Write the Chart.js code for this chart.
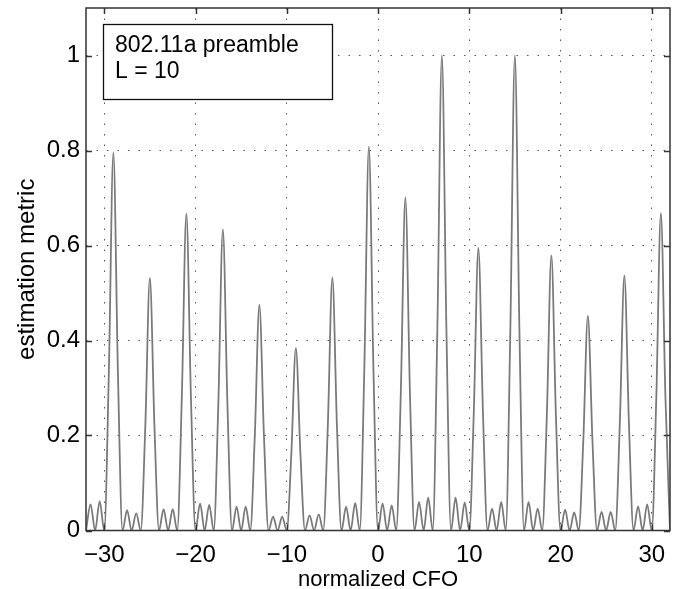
<!DOCTYPE html>
<html>
<head>
<meta charset="utf-8">
<script src="https://cdn.jsdelivr.net/npm/chart.js@4.4.1/dist/chart.umd.min.js"></script>
<style>
  html, body { margin: 0; padding: 0; background: #fff; }
</style>
</head>
<body>
<canvas id="chartCfo" width="677" height="589"></canvas>
<script>
// main lobes: position (normalized CFO) and height
const peakCfo    = [-29, -25, -21, -17, -13, -9, -5, -1, 3, 7, 11, 15, 19, 23, 27, 31];
const peakMetric = [0.796, 0.532, 0.667, 0.634, 0.475, 0.384, 0.533, 0.808,
                    0.701, 1.0, 0.595, 1.0, 0.579, 0.452, 0.537, 0.668];
// value half a bin either side of each peak (flank of the main lobe)
const shoulderMetric = [0.33, 0.22, 0.28, 0.265, 0.20, 0.16, 0.22, 0.34,
                        0.29, 0.42, 0.25, 0.42, 0.24, 0.19, 0.225, 0.28];

// small side lobes between the main lobes
const sideLobeCfo = [-31.5, -30.5, -27.5, -26.5, -23.5, -22.5, -19.5, -18.5,
                     -15.5, -14.5, -11.5, -10.5, -7.5, -6.5, -3.5, -2.5,
                     0.5, 1.5, 4.5, 5.5, 8.5, 9.5, 12.5, 13.5,
                     16.5, 17.5, 20.5, 21.5, 24.5, 25.5, 28.5, 29.5];
const sideLobeMetric = [0.055, 0.062, 0.043, 0.036, 0.045, 0.045, 0.057, 0.054,
                        0.050, 0.050, 0.029, 0.029, 0.032, 0.034, 0.050, 0.058,
                        0.057, 0.053, 0.060, 0.069, 0.069, 0.059, 0.046, 0.060,
                        0.060, 0.046, 0.044, 0.038, 0.039, 0.039, 0.051, 0.055];

// nulls of the metric
const nullCfo = [-32, -31, -30, -28, -27, -26, -24, -23, -22, -20, -19, -18,
                 -16, -15, -14, -12, -11, -10, -8, -7, -6, -4, -3, -2,
                 0, 1, 2, 4, 5, 6, 8, 9, 10, 12, 13, 14,
                 16, 17, 18, 20, 21, 22, 24, 25, 26, 28, 29, 30, 32];

const xTicks = [-30, -20, -10, 0, 10, 20, 30];
const yTicks = [0, 0.2, 0.4, 0.6, 0.8, 1];
const legendLines = ['802.11a preamble', 'L = 10'];

const FONT = 'Liberation Sans, Arial, Helvetica, sans-serif';

// collect every read point and put them in order of CFO
const points = [];
nullCfo.forEach(x => points.push({ x: x, y: 0 }));
peakCfo.forEach((x, i) => {
    points.push({ x: x, y: peakMetric[i] });
    points.push({ x: x - 0.5, y: shoulderMetric[i] });
    points.push({ x: x + 0.5, y: shoulderMetric[i] });
});
sideLobeCfo.forEach((x, i) => points.push({ x: x, y: sideLobeMetric[i] }));
points.sort((a, b) => a.x - b.x);

const minus = v => String(v).replace('-', '\u2212');

// box around the axes, inward tick marks, and the text box in the corner
const matlabFrame = {
    id: 'matlabFrame',
    afterDatasetsDraw(chart) {
        const { ctx, chartArea: a, scales } = chart;
        const len = 6;
        ctx.save();
        ctx.strokeStyle = '#333';
        ctx.lineWidth = 1.5;
        ctx.beginPath();
        xTicks.forEach(v => {
            const px = Math.round(scales.x.getPixelForValue(v)) + 0.5;
            ctx.moveTo(px, a.bottom); ctx.lineTo(px, a.bottom - len);
            ctx.moveTo(px, a.top);    ctx.lineTo(px, a.top + len);
        });
        yTicks.forEach(v => {
            const py = Math.round(scales.y.getPixelForValue(v)) + 0.5;
            ctx.moveTo(a.left, py);  ctx.lineTo(a.left + len, py);
            ctx.moveTo(a.right, py); ctx.lineTo(a.right - len, py);
        });
        ctx.stroke();
        ctx.strokeRect(a.left, a.top, a.right - a.left, a.bottom - a.top);

        // text box
        const bx = a.left + 17, by = a.top + 16, bw = 229, bh = 75;
        ctx.fillStyle = '#fff';
        ctx.fillRect(bx, by, bw, bh);
        ctx.lineWidth = 1.3;
        ctx.strokeStyle = '#111';
        ctx.strokeRect(bx + 0.5, by + 0.5, bw, bh);
        ctx.fillStyle = '#000';
        ctx.font = '23px ' + FONT;
        ctx.textBaseline = 'alphabetic';
        ctx.textAlign = 'left';
        legendLines.forEach((t, i) => ctx.fillText(t, bx + 12, by + 28 + i * 26));
        ctx.restore();
    }
};

new Chart(document.getElementById('chartCfo').getContext('2d'), {
    type: 'line',
    data: {
        datasets: [{
            data: points,
            borderColor: '#7a7a7a',
            borderWidth: 1.8,
            pointRadius: 0,
            cubicInterpolationMode: 'monotone',
            fill: false
        }]
    },
    options: {
        responsive: false,
        animation: false,
        layout: { padding: { top: 8, right: 7, left: 0, bottom: 0 } },
        plugins: {
            legend: { display: false },
            tooltip: { enabled: false }
        },
        scales: {
            x: {
                type: 'linear',
                min: -32,
                max: 32,
                afterFit: s => { s.height = 58.5; s.paddingLeft = 0; s.paddingRight = 0; },
                afterBuildTicks: s => { s.ticks = xTicks.map(v => ({ value: v })); },
                ticks: {
                    color: '#000',
                    font: { family: FONT, size: 24 },
                    padding: 10,
                    maxRotation: 0,
                    callback: v => minus(v)
                },
                grid: { color: '#555', lineWidth: 1, drawTicks: false },
                border: { display: false, dash: [1.5, 9] },
                title: {
                    display: true,
                    text: 'normalized CFO',
                    color: '#000',
                    font: { family: FONT, size: 22, lineHeight: 1 },
                    padding: { top: 0, bottom: -2 }
                }
            },
            y: {
                min: 0,
                max: 1.1,
                afterFit: s => { s.width = 86; s.paddingTop = 0; s.paddingBottom = 0; },
                afterBuildTicks: s => { s.ticks = yTicks.map(v => ({ value: v })); },
                ticks: {
                    color: '#000',
                    font: { family: FONT, size: 24 },
                    padding: 6,
                    callback: v => String(v)
                },
                grid: { color: '#555', lineWidth: 1, drawTicks: false },
                border: { display: false, dash: [1.5, 9] },
                title: {
                    display: true,
                    text: 'estimation metric',
                    color: '#000',
                    font: { family: FONT, size: 24, lineHeight: 1 },
                    padding: { top: 15, bottom: 0 }
                }
            }
        }
    },
    plugins: [matlabFrame]
});
</script>
</body>
</html>
